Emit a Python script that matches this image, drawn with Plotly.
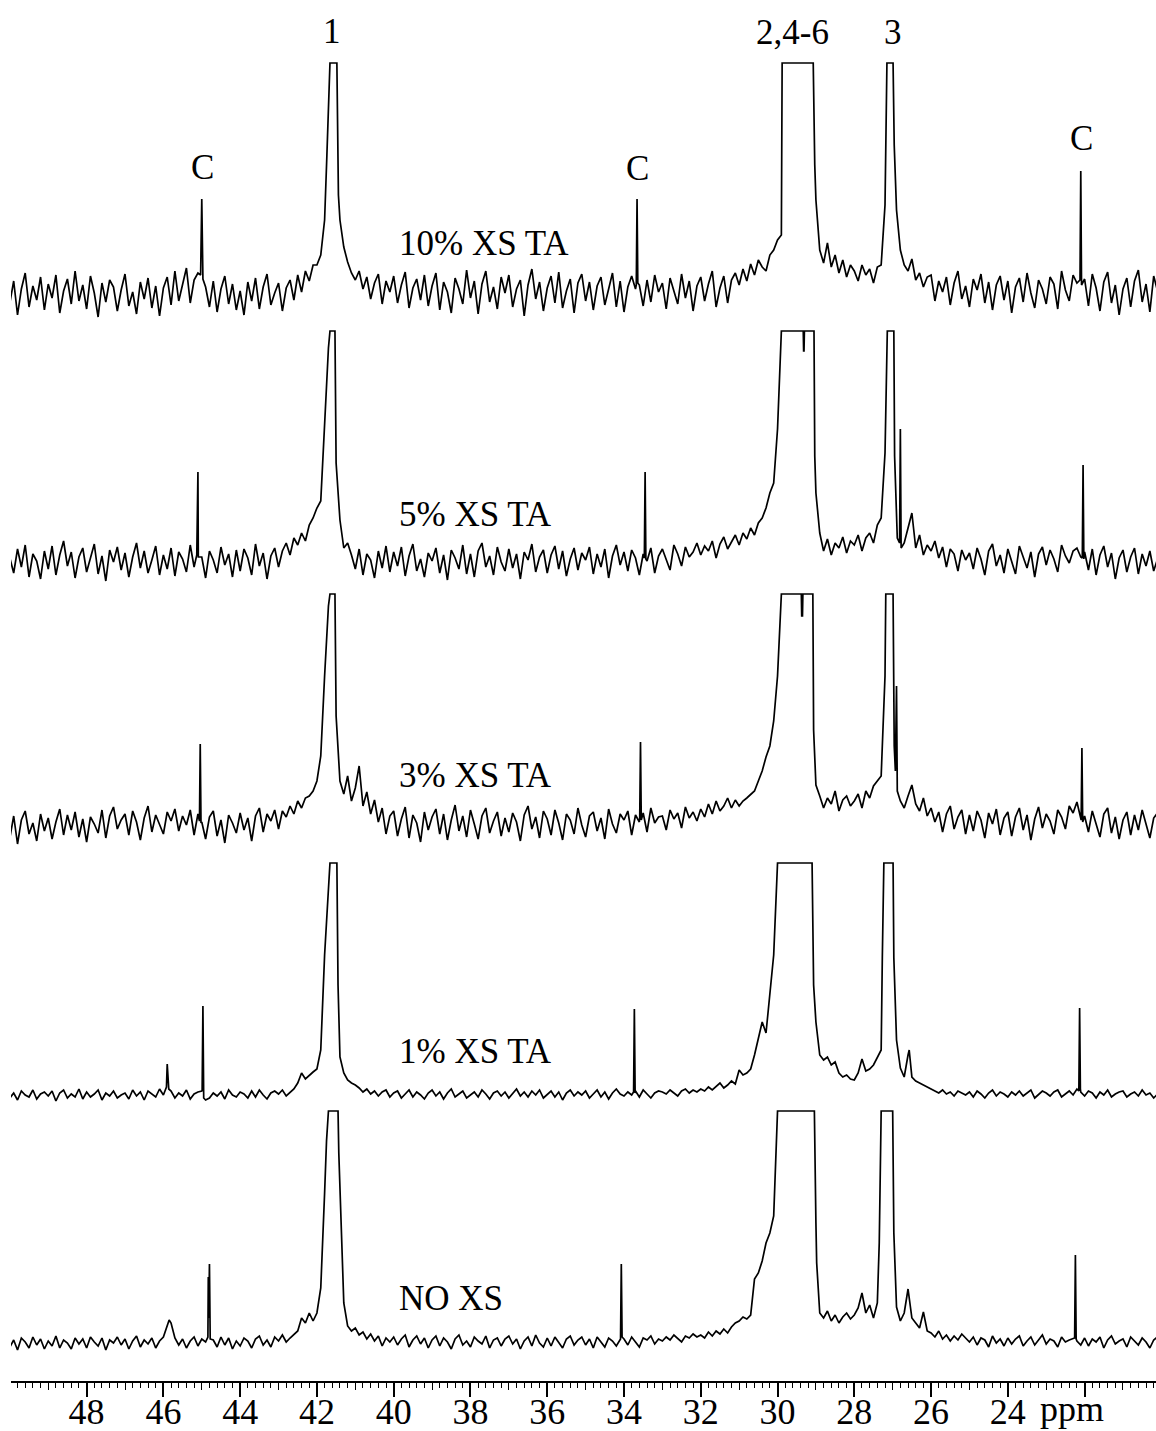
import plotly.graph_objects as go

# ---------------- data ----------------
# chemical-shift sampling grid (ppm), 50.0 -> 20.1 in 0.1 ppm steps
ppm_grid = [round(50.0 - 0.1 * i, 1) for i in range(300)]

# intensities (relative to each spectrum's own baseline, clipped peaks = 232)
int_10 = [
    -8, 14, -20, 6, 22, -12, 9, -5, 18, -15,
    11, -3, 20, -18, 4, 16, -9, 24, -6, 10,
    -14, 19, 2, -22, 12, -7, 15, 8, -16, 5,
    21, -11, 3, -19, 13, -4, 17, -13, 9, -21,
    7, 18, -10, 24, -6, 12, 27, -8, 15, 22,
    96, 8, -12, 14, -17, 6, 19, -9, 11, -15,
    4, -20, 13, -6, 17, -14, 8, 21, -10, 2,
    12, -16, 7, 15, -5, 20, 3, 24, 14, 30,
    30, 40, 75, 190, 232, 232, 75, 48, 33, 22,
    15, 24, 6, 18, -4, 12, 21, -9, 14, 3,
    19, -8, 10, 23, -13, 7, 16, -5, 20, -11,
    9, 22, -15, 13, 3, -18, 17, 6, -9, 25,
    -3, 14, -19, 11, 24, -7, 8, -14, 18, 2,
    20, -12, 6, 15, -21, 10, 26, -4, 13, -16,
    7, 19, -8, 23, -13, 4, 16, -18, 12, 21,
    -6, 13, -15, 9, 18, -10, 5, 22, -12, 14,
    -17, 8, 19, 6, 10, -11, 15, -7, 20, 3,
    12, -14, 17, 4, -9, 21, -3, 14, -16, 9,
    18, -6, 11, 24, -12, 7, 19, -8, 15, 22,
    10, 26, 14, 31, 20, 35, 28, 24, 40, 45,
    55, 60, 232, 232, 232, 232, 232, 232, 232, 232,
    95, 45, 32, 52, 28, 40, 22, 35, 18, 30,
    24, 14, 30, 20, 26, 12, 28, 30, 90, 232,
    232, 85, 45, 30, 24, 36, 15, 22, 8, 18,
    20, -6, 14, 3, 18, -10, 12, 24, -4, 9,
    -12, 16, 5, 21, -8, 13, -15, 10, 19, -5,
    14, -18, 8, 17, -7, 22, 2, -13, 15, 6,
    -9, 18, 11, -14, 24, 5, -6, 20, 12, 124,
    16, -11, 21, 7, -16, 13, 23, -8, 10, -20,
    6, 17, -12, 14, 25, -7, 11, -17, 19, 4,
]
ext_10_ppm = [45.03, 44.97, 41.74, 41.66, 41.48, 41.44, 33.68, 33.66, 33.64,
              29.88, 29.07, 29.03, 27.15, 26.99, 26.96, 22.12, 22.08]
ext_10_val = [20, 16, 140, 232, 232, 100, 10, 96, 12,
              232, 232, 130, 232, 232, 150, 15, 10]

int_5 = [
    5, -10, 14, -4, 18, -14, 9, 2, -16, 12,
    -6, 17, -12, 8, 22, -3, 11, -15, 6, 15,
    -9, 4, 19, -11, 7, -18, 13, 1, 16, -7,
    10, -14, 6, 20, -5, 12, -10, 3, 17, -12,
    8, -6, 15, -13, 11, 4, -9, 18, -4, 91,
    6, -15, 12, 3, -10, 16, -2, 9, -14, 13,
    -8, 14, 5, -12, 19, -3, 10, -16, 7, 15,
    -4, 12, 20, 8, 25, 18, 30, 22, 38, 45,
    55, 62, 145, 215, 232, 100, 43, 15, 20, 8,
    -6, 14, -12, 9, 3, -15, 12, -5, 17, -9,
    11, -3, 16, -13, 7, 19, -8, 4, -14, 10,
    2, 15, -10, 8, -17, 13, 5, -6, 18, -11,
    9, -14, 12, 20, -4, 7, -12, 16, 1, -8,
    14, -5, 9, -16, 11, 3, 19, -9, 6, 13,
    -10, 8, 17, -6, 12, -13, 4, 15, -7, 10,
    3, 16, -11, 9, -4, 14, -15, 7, 18, -2,
    11, -8, 13, 5, -12, 9, 2, 15, -10, 7,
    14, 4, -7, 18, 9, -3, 16, 6, 11, 20,
    8, 17, 12, 22, 5, 19, 26, 14, 21, 28,
    18, 30, 24, 35, 28, 40, 45, 55, 70, 80,
    134, 232, 232, 232, 232, 232, 232, 232, 232, 232,
    70, 30, 12, 24, 8, 20, 15, 26, 10, 22,
    18, 28, 12, 25, 30, 20, 38, 45, 110, 232,
    232, 60, 134, 20, 35, 50, 15, 28, 8, 18,
    12, 22, 5, 16, -4, 14, 9, -8, 13, 3,
    10, -6, 15, 4, -12, 12, 19, -3, 8, -10,
    14, 2, -11, 17, 6, -5, 11, -14, 9, 16,
    -2, 13, 4, -9, 18, 7, 0, 12, 15, 6,
    11, -7, 14, -12, 8, 17, -4, 10, -16, 5,
    13, -9, 6, 15, -11, 9, -3, 12, -8, 4,
]
ext_5_ppm = [45.13, 45.09, 41.66, 41.53, 33.47, 33.45, 33.43, 29.33, 29.32, 29.31,
             29.05, 29.03, 27.14, 26.97, 26.95, 26.88, 26.82, 26.78, 22.06, 22.04, 22.02]
ext_5_val = [8, 6, 232, 232, 5, 91, 4, 232, 212, 212,
             232, 107, 232, 232, 107, 25, 20, 15, 5, 98, 4]

int_3 = [
    -12, 10, -18, 6, 15, -8, 3, -15, 12, -5,
    8, -13, 4, 17, -9, 11, -4, 14, -11, 7,
    -16, 9, 2, -7, 16, -12, 10, 19, -3, 6,
    12, -9, 15, 4, -14, 8, 20, -6, 11, 2,
    -8, 14, 5, 17, -5, 10, 1, 16, -9, 12,
    4, -13, 9, 15, -10, 6, -17, 11, 3, -7,
    13, -4, 8, -15, 10, 18, -6, 12, 5, 16,
    -3, 15, 9, 20, 12, 25, 18, 28, 30, 35,
    45, 70, 150, 220, 232, 110, 45, 32, 50, 25,
    38, 60, 20, 34, 12, 26, 4, 18, -8, 10,
    15, -10, 7, 19, -12, 11, 3, -16, 14, -4,
    9, 17, -8, 12, -14, 6, 21, -5, 10, -11,
    16, 2, -13, 10, 18, -7, 5, 14, -10, 8,
    -6, 13, 4, -15, 11, 20, -3, 9, -12, 15,
    7, -9, 16, 3, -14, 12, 6, -8, 18, 1,
    -11, 10, 14, -5, 8, -13, 17, 2, -7, 12,
    6, 15, -9, 11, 4, 13, -6, 18, 3, 9,
    10, -4, 16, 7, 13, -2, 19, 8, 14, 5,
    17, 9, 22, 12, 25, 15, 20, 28, 18, 26,
    20, 25, 28, 32, 35, 45, 55, 69, 80, 105,
    150, 232, 232, 232, 232, 232, 232, 232, 232, 232,
    41, 30, 18, 28, 22, 35, 15, 26, 30, 20,
    25, 32, 18, 35, 28, 40, 45, 50, 150, 232,
    232, 140, 25, 18, 30, 41, 22, 15, 28, 10,
    18, 4, 14, -6, 12, 20, -3, 9, 16, -8,
    11, -5, 15, 6, -12, 13, 2, 17, -9, 8,
    14, -10, 9, 18, -4, 11, -14, 7, 19, -2,
    12, 5, -8, 16, 9, -3, 20, 13, 24, 8,
    10, -6, 15, 3, -11, 12, 18, -7, 9, -13,
    6, 14, -9, 11, -4, 16, 2, -12, 8, 13,
]
ext_3_ppm = [45.06, 45.04, 45.02, 41.66, 41.53, 33.59, 33.57, 33.55, 29.38, 29.37, 29.35,
             29.34, 29.08, 29.06, 27.18, 26.99, 26.96, 26.93, 26.88, 22.09, 22.07, 22.05]
ext_3_val = [5, 82, 3, 232, 232, 8, 84, 6, 232, 210, 210,
             232, 232, 96, 232, 232, 80, 55, 35, 6, 78, 4]

int_1 = [
    -3, 2, -5, 4, 0, -2, 5, -4, 1, 3,
    -1, 4, -6, 2, 5, -3, 1, -2, 6, -4,
    3, -2, 1, 5, -5, 2, -1, 4, -3, 0,
    2, -4, 5, -1, 3, -5, 4, 1, -2, 6,
    0, 31, 4, -3, 2, -1, 5, -4, 1, 3,
    4, -5, -3, 2, -1, 3, -4, 5, 0, -2,
    3, 1, -3, 4, -2, 5, 0, -4, 2, 4,
    1, 5, -1, 3, 6, 12, 22, 16, 20, 23,
    26, 45, 140, 215, 232, 232, 38, 22, 15, 12,
    10, 7, 3, 6, 1, 4, -1, 3, 5, -2,
    2, 4, -3, 1, 5, -2, 3, 0, -4, 2,
    5, -1, 3, -4, 2, 6, -2, 1, 4, -3,
    0, 3, -2, 5, 1, -4, 2, 4, -1, 3,
    -3, 2, 6, -1, 3, -2, 4, 0, 5, -3,
    1, 4, -2, 3, -5, 2, 5, -1, 3, 0,
    4, -3, 1, 5, -2, 3, -4, 2, 6, 1,
    -1, 3, 0, 4, -2, 5, 1, -3, 2, 4,
    3, 1, 5, 2, -1, 4, 6, 2, 5, 3,
    6, 4, 8, 5, 9, 12, 7, 10, 14, 11,
    25, 20, 22, 26, 40, 55, 73, 62, 100, 140,
    232, 232, 232, 232, 232, 232, 232, 232, 232, 232,
    73, 40, 35, 38, 30, 33, 22, 18, 20, 16,
    15, 22, 36, 24, 26, 30, 38, 45, 232, 232,
    232, 55, 27, 18, 40, 18, 14, 12, 10, 8,
    6, 4, 2, 5, 1, 3, -1, 4, 2, 0,
    3, -2, 4, 1, -3, 2, 5, -1, 3, 1,
    -2, 3, 0, 4, -1, 2, 5, -3, 1, 4,
    2, -1, 3, 5, -2, 1, 4, 0, 6, 3,
    -1, 4, 2, -3, 3, 0, 5, -2, 1, 3,
    4, -2, 1, 3, -1, 5, 0, 2, -3, 1,
]
ext_1_ppm = [45.92, 45.86, 44.99, 44.97, 44.95, 41.66, 41.48, 41.45, 33.75, 33.73, 33.71,
             29.06, 27.27, 27.23, 26.99, 26.97, 26.57, 22.15, 22.13, 22.11]
ext_1_val = [8, 6, 5, 89, -3, 232, 232, 110, 3, 86, 2,
             110, 137, 232, 232, 137, 45, 4, 87, 6]

int_0 = [
    -4, 3, -7, 5, 1, -5, 6, -2, 4, -6,
    2, -3, 7, -5, 3, 0, -6, 5, -1, 4,
    -5, 6, 1, -3, 5, -7, 3, 0, 6, -2,
    4, -6, 2, 7, -4, 3, -1, 5, -5, 2,
    6, 18, 20, 5, -2, 4, -5, 2, 6, -3,
    4, 1, 79, 3, -4, 6, -2, 5, -6, 2,
    -3, 5, 2, -5, 4, 7, -2, 3, -4, 6,
    2, 8, 1, 5, 9, 12, 25, 20, 30, 22,
    30, 55, 150, 232, 232, 232, 157, 40, 17, 12,
    15, 8, 11, 4, 9, 2, 7, -3, 5, 1,
    6, -2, 4, 8, -4, 3, 7, -1, 5, -5,
    3, 7, -3, 5, 1, -6, 4, 8, -2, 2,
    -4, 6, 2, -1, 7, -5, 3, 5, -3, 4,
    7, -1, 4, -6, 2, 6, -3, 8, 0, -4,
    5, -3, 6, 1, -5, 4, 7, -2, 3, 6,
    -2, 4, -5, 6, 1, -4, 5, 2, -3, 3,
    4, -2, 6, 1, -4, 5, 3, 7, -1, 4,
    2, 6, 3, 8, 4, 1, 7, 5, 9, 6,
    8, 5, 11, 7, 12, 9, 14, 10, 16, 20,
    22, 26, 24, 28, 64, 70, 82, 100, 110, 127,
    232, 232, 232, 232, 232, 232, 232, 232, 232, 232,
    120, 30, 25, 32, 22, 28, 20, 26, 30, 24,
    28, 35, 50, 30, 38, 25, 40, 232, 232, 232,
    232, 36, 22, 30, 54, 25, 20, 15, 31, 12,
    10, 6, 12, 4, 8, 2, 7, 3, 9, 5,
    1, 6, -2, 5, 3, -4, 7, 0, 4, -3,
    5, -1, 4, 7, -3, 2, 6, -2, 3, 8,
    -1, 4, 2, -4, 6, 1, 3, 5, 2, -2,
    5, -3, 4, 1, 6, -5, 3, 7, -1, 2,
    4, -4, 6, 2, -2, 5, 1, -5, 3, 6,
]
ext_0_ppm = [45.85, 44.84, 44.83, 44.82, 44.78, 41.75, 41.45, 41.43, 34.09, 34.07, 34.05,
             29.04, 28.98, 27.35, 26.97, 22.26, 22.24, 22.22]
ext_0_val = [23, 6, 66, 25, 4, 202, 232, 190, 4, 79, 6,
             232, 80, 100, 110, 5, 88, 4]

spectrum_names = ["10% XS TA", "5% XS TA", "3% XS TA", "1% XS TA", "NO XS"]
peak_labels = ["C", "1", "C", "2,4-6", "3", "C"]
peak_label_ppm = [44.97, 41.61, 33.66, 29.60, 26.99, 22.08]
tick_values = [48, 46, 44, 42, 40, 38, 36, 34, 32, 30, 28, 26, 24, 22]
tick_labels = ["48", "46", "44", "42", "40", "38", "36", "34", "32", "30", "28", "26", "24", ""]

# ---------------- layout constants (positions / styles) ----------------
series = [
    (int_10, ext_10_ppm, ext_10_val),
    (int_5, ext_5_ppm, ext_5_val),
    (int_3, ext_3_ppm, ext_3_val),
    (int_1, ext_1_ppm, ext_1_val),
    (int_0, ext_0_ppm, ext_0_val),
]
stack_offset = [1086, 818, 555, 286, 38]          # vertical stacking of the spectra
name_label_y = [1138, 867, 606, 330, 83]
peak_label_y = [1214, 1350, 1213, 1349, 1349, 1243]
FONT = "Liberation Serif"

fig = go.Figure()
for (vals, ep, ev), off in zip(series, stack_offset):
    assert len(vals) == len(ppm_grid)
    pts = sorted(list(zip(ppm_grid, vals)) + list(zip(ep, ev)), key=lambda t: -t[0])
    fig.add_trace(go.Scatter(
        x=[p for p, _ in pts],
        y=[v + off for _, v in pts],
        mode="lines",
        line=dict(color="black", width=1.7),
        hoverinfo="skip",
        showlegend=False,
        xaxis="x", yaxis="y",
    ))

# invisible trace on xaxis2 so the odd-ppm tick axis renders
fig.add_trace(go.Scatter(x=[30], y=[0], mode="markers", marker=dict(opacity=0),
                         xaxis="x2", yaxis="y", showlegend=False, hoverinfo="skip"))

annotations = []
for name, yv in zip(spectrum_names, name_label_y):
    annotations.append(dict(x=39.91, y=yv, xref="x", yref="y", text=name, showarrow=False,
                            xanchor="left", yanchor="middle",
                            font=dict(family=FONT, size=35, color="black")))
for lab, xv, yv in zip(peak_labels, peak_label_ppm, peak_label_y):
    annotations.append(dict(x=xv, y=yv, xref="x", yref="y", text=lab, showarrow=False,
                            xanchor="center", yanchor="middle",
                            font=dict(family=FONT, size=35, color="black")))
# "ppm" unit text, placed on the tick-label row (paper y below the plot area)
annotations.append(dict(x=23.21, y=-0.0203, xref="x", yref="paper", text="ppm", showarrow=False,
                        xanchor="left", yanchor="middle",
                        font=dict(family=FONT, size=36, color="black")))

XR = [49.97, 20.14]
fig.update_layout(
    width=1156, height=1431,
    margin=dict(l=11, r=0, t=0, b=50, autoexpand=False),
    paper_bgcolor="white", plot_bgcolor="white",
    showlegend=False,
    annotations=annotations,
    xaxis=dict(
        range=XR, showgrid=False, zeroline=False, automargin=False,
        showline=True, linecolor="black", linewidth=1.5,
        ticks="outside", ticklen=14, tickwidth=1.5, tickcolor="black",
        tickmode="array", tickvals=tick_values, ticktext=tick_labels,
        tickfont=dict(family=FONT, size=36, color="black"),
        ticklabelstandoff=-16,
        minor=dict(ticks="outside", dtick=0.2, tick0=0, ticklen=5, tickwidth=1,
                   tickcolor="black", showgrid=False),
    ),
    xaxis2=dict(
        range=XR, overlaying="x", anchor="y", side="bottom", automargin=False,
        showgrid=False, zeroline=False, showline=False,
        ticks="outside", ticklen=8, tickwidth=1.2, tickcolor="black",
        tickmode="array", tickvals=[49, 47, 45, 43, 41, 39, 37, 35, 33, 31, 29, 27, 25, 23, 21],
        showticklabels=False,
    ),
    yaxis=dict(range=[0, 1381], visible=False, showgrid=False, zeroline=False),
)

fig.write_html(
    "out.html",
    config={"displayModeBar": False},
    post_script="document.body.style.margin='0px';document.body.style.overflow='hidden';",
)
